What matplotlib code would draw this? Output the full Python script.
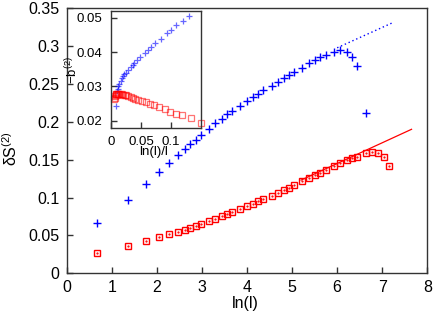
import matplotlib
matplotlib.use("Agg")
import matplotlib.pyplot as plt

plt.rcParams['font.family'] = ['Liberation Sans', 'DejaVu Sans']
plt.rcParams['mathtext.default'] = 'regular'

# ---- main panel data ----
blue_x = [0.67, 1.35, 1.75, 2.05, 2.28, 2.46, 2.62, 2.74, 2.86, 2.97, 3.15, 3.30, 3.44,
          3.56, 3.67, 3.84, 4.00, 4.13, 4.24, 4.36, 4.55, 4.69, 4.81, 4.93, 5.04, 5.22,
          5.38, 5.51, 5.63, 5.75, 5.92, 6.07, 6.22, 6.34, 6.45, 6.64]
blue_y = [0.0668, 0.0963, 0.1174, 0.1332, 0.1450, 0.1557, 0.1636, 0.1706, 0.1763, 0.1820,
          0.1904, 0.1979, 0.2040, 0.2098, 0.2146, 0.2212, 0.2278, 0.2326, 0.2370, 0.2414,
          0.2476, 0.2524, 0.2573, 0.2612, 0.2656, 0.2713, 0.2770, 0.2810, 0.2850, 0.2885,
          0.2916, 0.2942, 0.2920, 0.2854, 0.2731, 0.2111]

red_x = [0.67, 1.35, 1.75, 2.05, 2.28, 2.46, 2.62, 2.74, 2.86, 2.97, 3.15, 3.30, 3.44,
         3.56, 3.67, 3.84, 4.00, 4.13, 4.24, 4.36, 4.55, 4.69, 4.81, 4.93, 5.04, 5.22,
         5.38, 5.51, 5.63, 5.75, 5.92, 6.07, 6.22, 6.34, 6.45, 6.64, 6.78, 6.91, 7.03, 7.14]
red_y = [0.0264, 0.0365, 0.0431, 0.0475, 0.0515, 0.0550, 0.0576, 0.0602, 0.0629, 0.0646,
         0.0690, 0.0721, 0.0756, 0.0783, 0.0809, 0.0849, 0.0884, 0.0919, 0.0950, 0.0976,
         0.1025, 0.1064, 0.1100, 0.1130, 0.1161, 0.1218, 0.1258, 0.1293, 0.1328, 0.1359,
         0.1412, 0.1451, 0.1490, 0.1517, 0.1539, 0.1583, 0.1600, 0.1587, 0.1530, 0.1416]

blue_fit_x = [6.0, 7.25]
blue_fit_y = [0.2975, 0.3311]
red_fit_x = [5.2, 7.65]
red_fit_y = [0.1230, 0.1900]

# ---- inset data ----
in_blue_x = [0.1306, 0.120, 0.108, 0.100, 0.094, 0.083, 0.073, 0.066, 0.061, 0.056, 0.048,
             0.043, 0.039, 0.036, 0.033, 0.028, 0.025, 0.022, 0.020, 0.018, 0.016, 0.014,
             0.012, 0.011, 0.010, 0.0087]
in_blue_y = [0.0506, 0.0489, 0.0478, 0.0465, 0.0455, 0.0438, 0.0425, 0.0415, 0.0406, 0.0397,
             0.0386, 0.0377, 0.0369, 0.0363, 0.0357, 0.0347, 0.0340, 0.0335, 0.0329, 0.0323,
             0.0316, 0.0308, 0.0301, 0.0293, 0.0287, 0.0244]

in_red_x = [0.1494, 0.1333, 0.119, 0.108, 0.099, 0.0906, 0.0806, 0.0717, 0.0644, 0.0578,
            0.0511, 0.0456, 0.0406, 0.0367, 0.0328, 0.0289, 0.0256, 0.0228, 0.0206, 0.0183,
            0.0161, 0.0139, 0.0122, 0.0111, 0.0100, 0.0089, 0.0083, 0.0078, 0.0070, 0.0063,
            0.0057]
in_red_y = [0.0195, 0.0209, 0.0216, 0.0221, 0.0226, 0.0233, 0.0239, 0.0245, 0.0249, 0.0254,
            0.0257, 0.0261, 0.0264, 0.0267, 0.0270, 0.0272, 0.0274, 0.0275, 0.0276, 0.0277,
            0.0278, 0.0279, 0.0279, 0.0279, 0.0279, 0.0278, 0.0277, 0.0276, 0.0272, 0.0266,
            0.0262]

main_xticks = [0, 1, 2, 3, 4, 5, 6, 7, 8]
main_yticks = [0, 0.05, 0.1, 0.15, 0.2, 0.25, 0.3, 0.35]
main_yticklabels = ['0', '0.05', '0.1', '0.15', '0.2', '0.25', '0.3', '0.35']
in_xticks = [0, 0.05, 0.1]
in_xticklabels = ['0', '0.05', '0.1']
in_yticks = [0.02, 0.03, 0.04, 0.05]
in_yticklabels = ['0.02', '0.03', '0.04', '0.05']

BLUE = '#0000ff'
RED = '#ff0000'
EDGE = '#333333'

W, H = 443.0, 316.0
fig = plt.figure(figsize=(W / 100, H / 100), dpi=100)
ax = fig.add_axes([0.1505, 0.135, 0.8141, 0.8397])

ax.plot(blue_x, blue_y, linestyle='none', marker='+', ms=5.2, mew=1.0, color=BLUE)
ax.plot(red_x, red_y, linestyle='none', marker='s', ms=4.8, mew=1.0, mfc='none', mec=RED)
ax.plot(red_x, red_y, linestyle='none', marker='.', ms=1.2, color=RED)
ax.plot(blue_fit_x, blue_fit_y, linestyle=(0, (1, 2)), lw=1.0, color=BLUE)
ax.plot(red_fit_x, red_fit_y, linestyle='-', lw=0.9, color=RED)

ax.set_xlim(0, 8)
ax.set_ylim(0, 0.35)
ax.set_xticks(main_xticks)
ax.set_yticks(main_yticks)
ax.set_yticklabels(main_yticklabels)
ax.tick_params(direction='in', length=4, width=1, labelsize=11.5, color=EDGE,
               top=False, right=False, pad=5)
for s in ax.spines.values():
    s.set_color(EDGE)
    s.set_linewidth(1.0)
ax.set_xlabel('ln(l)', fontsize=11.5, va='center', ha='center')
ax.xaxis.set_label_coords(0.494, -0.114)
fig.text(10.5 / W, 1 - 149 / H, r'$\delta S^{(2)}$', fontsize=11.5, rotation=90,
         ha='center', va='center')

# ---- inset ----
ai = fig.add_axes([0.2506, 0.596, 0.2032, 0.370])
ai.plot(in_blue_x, in_blue_y, linestyle='none', marker='+', ms=5.0, mew=0.9,
        color=BLUE, alpha=0.6, clip_on=False)
ai.plot(in_red_x, in_red_y, linestyle='none', marker='s', ms=4.8, mew=0.9,
        mfc='none', mec=RED, alpha=0.55, clip_on=False)
ai.set_xlim(0, 0.15)
ai.set_ylim(0.018, 0.052)
ai.set_xticks(in_xticks)
ai.set_xticklabels(in_xticklabels)
ai.set_yticks(in_yticks)
ai.set_yticklabels(in_yticklabels)
ai.tick_params(direction='in', length=4, width=1, labelsize=9.5, color=EDGE,
               top=False, right=False, pad=6)
for s in ai.spines.values():
    s.set_color(EDGE)
    s.set_linewidth(1.0)
ai.set_xlabel('ln(l)/l', fontsize=9.5, va='center', ha='center')
ai.xaxis.set_label_coords(0.472, -0.208)
fig.text(72 / W, 1 - 70 / H, r'$-b^{(2)}$', fontsize=9.5, rotation=90,
         ha='center', va='center')

fig.savefig('out.png', dpi=100)
